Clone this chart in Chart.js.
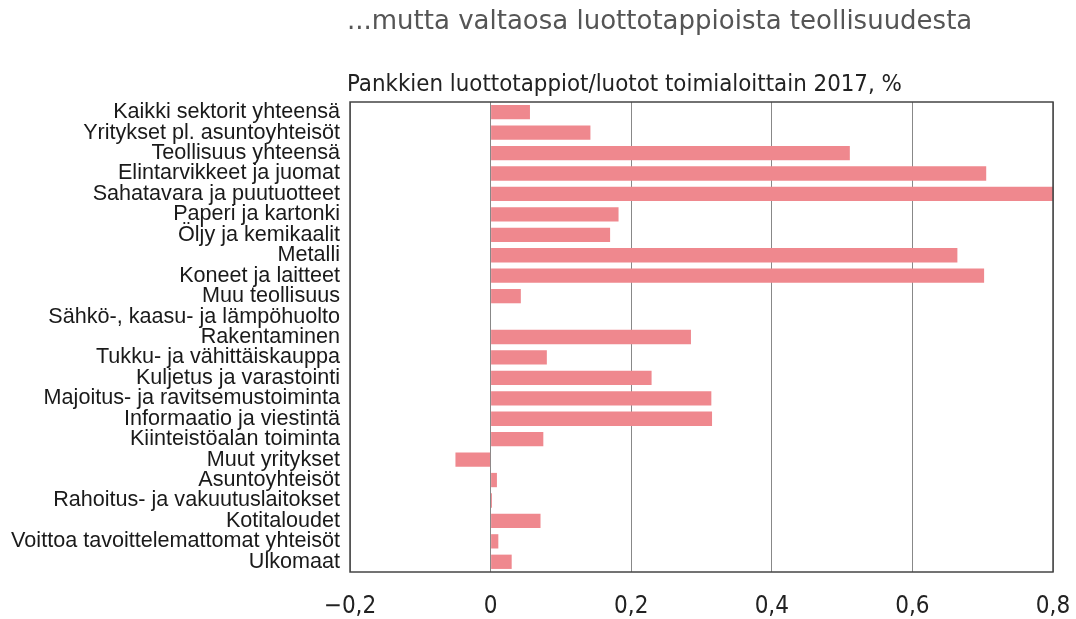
<!DOCTYPE html>
<html>
<head>
<meta charset="utf-8">
<script src="https://cdn.jsdelivr.net/npm/chart.js@4/dist/chart.umd.min.js"></script>
<style>
  html, body { margin: 0; padding: 0; background: #fff; }
  #wrap { position: relative; width: 1076px; height: 619px; }
  #title { position: absolute; left: 347px; top: 5px; font-family: "DejaVu Sans", sans-serif; font-size: 26px; color: #555; white-space: nowrap; }
  #subtitle { position: absolute; left: 347px; top: 69px; font-family: "DejaVu Sans Condensed", "DejaVu Sans", sans-serif; font-size: 23.8px; color: #222; white-space: nowrap; }
  canvas { position: absolute; left: 0; top: 0; }
</style>
</head>
<body>
<div id="wrap">
  <canvas id="c" width="1076" height="619"></canvas>
  <div id="title">...mutta valtaosa luottotappioista teollisuudesta</div>
  <div id="subtitle">Pankkien luottotappiot/luotot toimialoittain 2017, %</div>
</div>
<script>
const categories = [
  "Kaikki sektorit yhteensä",
  "Yritykset pl. asuntoyhteisöt",
  "Teollisuus yhteensä",
  "Elintarvikkeet ja juomat",
  "Sahatavara ja puutuotteet",
  "Paperi ja kartonki",
  "Öljy ja kemikaalit",
  "Metalli",
  "Koneet ja laitteet",
  "Muu teollisuus",
  "Sähkö-, kaasu- ja lämpöhuolto",
  "Rakentaminen",
  "Tukku- ja vähittäiskauppa",
  "Kuljetus ja varastointi",
  "Majoitus- ja ravitsemustoiminta",
  "Informaatio ja viestintä",
  "Kiinteistöalan toiminta",
  "Muut yritykset",
  "Asuntoyhteisöt",
  "Rahoitus- ja vakuutuslaitokset",
  "Kotitaloudet",
  "Voittoa tavoittelemattomat yhteisöt",
  "Ulkomaat"
];
const lossRatio = [
  0.056, 0.142, 0.511, 0.705, 0.80, 0.182, 0.170, 0.664, 0.702, 0.043,
  0.0, 0.285, 0.080, 0.229, 0.314, 0.315, 0.075, -0.050, 0.009, 0.002,
  0.071, 0.011, 0.030
];
const tickValues = [-0.2, 0, 0.2, 0.4, 0.6, 0.8];
const tickLabels = ["−0,2", "0", "0,2", "0,4", "0,6", "0,8"];

const boxPlugin = {
  id: 'box',
  afterDatasetsDraw(chart) {
    const a = chart.chartArea, ctx = chart.ctx;
    ctx.save();
    ctx.strokeStyle = '#444';
    ctx.lineWidth = 1.5;
    ctx.strokeRect(a.left, a.top, a.right - a.left, a.bottom - a.top);
    ctx.restore();
  }
};

new Chart(document.getElementById('c'), {
  type: 'bar',
  data: {
    labels: categories,
    datasets: [{
      data: lossRatio,
      backgroundColor: '#ef888e',
      borderWidth: 0,
      barPercentage: 0.7,
      categoryPercentage: 1.0
    }]
  },
  options: {
    indexAxis: 'y',
    responsive: false,
    animation: false,
    layout: { padding: { top: 102, left: 0, right: 23, bottom: 0 } },
    plugins: { legend: { display: false }, tooltip: { enabled: false } },
    scales: {
      x: {
        min: -0.2, max: 0.8,
        afterBuildTicks(scale) { scale.ticks = tickValues.map(v => ({ value: v })); },
        afterFit(scale) { scale.height = 47; scale.paddingRight = 0; scale.paddingLeft = 0; },
        grid: { color: '#888', lineWidth: 1, drawTicks: false },
        border: { display: false },
        ticks: {
          padding: 20,
          color: '#222',
          font: { family: 'DejaVu Sans Condensed, DejaVu Sans', size: 24 },
          callback(value) {
            const i = tickValues.findIndex(t => Math.abs(t - value) < 1e-9);
            return i >= 0 ? tickLabels[i] : '';
          }
        }
      },
      y: {
        afterFit(scale) { scale.width = 350; scale.paddingTop = 0; scale.paddingBottom = 0; },
        grid: { display: false, drawTicks: false },
        border: { display: false },
        ticks: {
          padding: 10,
          autoSkip: false,
          color: '#1a1a1a',
          font: { family: 'Liberation Sans', size: 21.6 }
        }
      }
    }
  },
  plugins: [boxPlugin]
});
</script>
</body>
</html>
